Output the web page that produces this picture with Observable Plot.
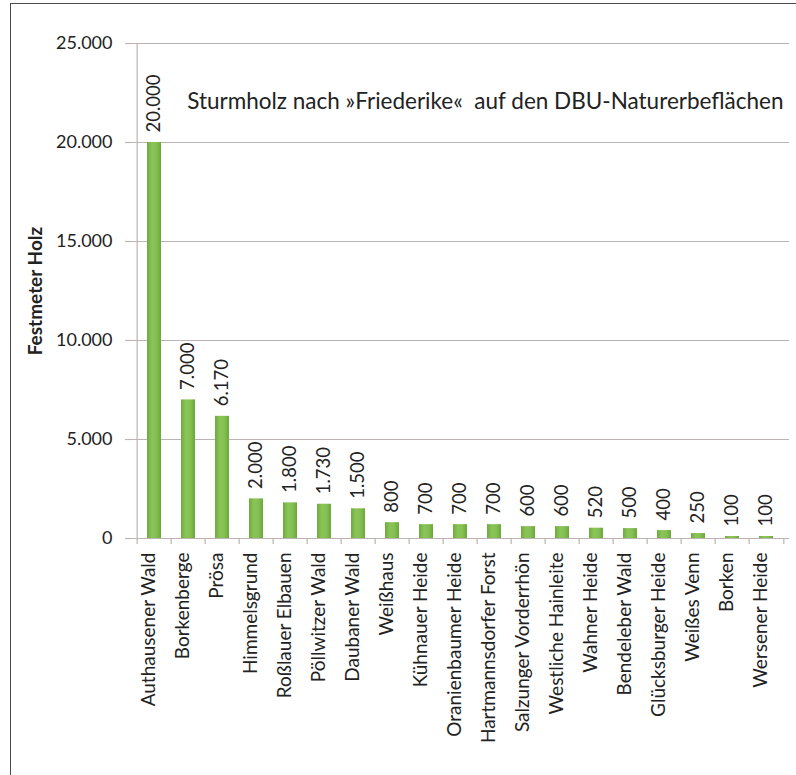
<!DOCTYPE html>
<html>
<head>
<meta charset="utf-8">
<script src="https://cdn.jsdelivr.net/npm/d3@7"></script>
<script src="https://cdn.jsdelivr.net/npm/@observablehq/plot@0.6"></script>
<style>
  html, body { margin: 0; padding: 0; background: white; }
  #wrap { position: relative; width: 796px; height: 775px; }
  #border { position: absolute; left: 10px; top: 3px; right: 0; bottom: 0;
            border-left: 1.5px solid #4a4a4a; border-top: 1.5px solid #4a4a4a; pointer-events: none; }
</style>
</head>
<body>
<div id="wrap"><div id="border"></div></div>
<script>
const categories = ["Authausener Wald", "Borkenberge", "Prösa", "Himmelsgrund", "Roßlauer Elbauen",
  "Pöllwitzer Wald", "Daubaner Wald", "Weißhaus", "Kühnauer Heide", "Oranienbaumer Heide",
  "Hartmannsdorfer Forst", "Salzunger Vorderrhön", "Westliche Hainleite", "Wahner Heide",
  "Bendeleber Wald", "Glücksburger Heide", "Weißes Venn", "Borken", "Wersener Heide"];
const values = [20000, 7000, 6170, 2000, 1800, 1730, 1500, 800, 700, 700, 700, 600, 600, 520, 500, 400, 250, 100, 100];
const yTicks = [0, 5000, 10000, 15000, 20000, 25000];
const title = "Sturmholz nach »Friederike«  auf den DBU-Naturerbeflächen";
const yLabel = "Festmeter Holz";

const data = categories.map((name, i) => ({name, value: values[i]}));
const fmt = d3.formatLocale({decimal: ",", thousands: ".", grouping: [3], currency: ["", "€"]}).format(",");

const W = 796, H = 775, mL = 131, mR = 7, mT = 43, mB = 237;
const step = (W - mL - mR) / categories.length;
const gridColor = "#bdb3b3";
const tickDown = -6 * 25000 / (H - mT - mB);

const plot = Plot.plot({
  width: W, height: H,
  marginLeft: mL, marginRight: mR, marginTop: mT, marginBottom: mB,
  style: {fontFamily: "Lato, sans-serif", fontSize: "18px", color: "#222", background: "white", overflow: "visible"},
  x: {domain: categories, paddingInner: 0.6, paddingOuter: 0.3, axis: null},
  y: {domain: [0, 25000], axis: null},
  marks: [
    Plot.gridY(yTicks, {stroke: gridColor, strokeOpacity: 1, strokeWidth: 1.2}),
    Plot.axisY(yTicks, {tickFormat: fmt, tickSize: 6, tickPadding: 13, stroke: gridColor, strokeWidth: 1.2, label: null, fontSize: 18, fill: "#222"}),
    Plot.ruleX([categories[0]], {x: d => d, dx: -step / 2, y1: 0, y2: 25000, stroke: gridColor, strokeWidth: 1.2}),
    Plot.ruleX(categories, {x: d => d, dx: -step / 2, y1: 0, y2: tickDown, stroke: gridColor, strokeWidth: 1.2}),
    Plot.ruleX([categories[categories.length - 1]], {x: d => d, dx: step / 2, y1: 0, y2: tickDown, stroke: gridColor, strokeWidth: 1.2}),
    Plot.barY(data, {x: "name", y: "value", fill: "url(#barGrad)"}),
    Plot.text(data, {x: "name", y: "value", text: d => fmt(d.value), rotate: -90, textAnchor: "start", dy: -10, fontSize: 18.5, fill: "#222"}),
    Plot.text(data, {x: "name", text: "name", frameAnchor: "bottom", rotate: -90, textAnchor: "end", dy: 14, fontSize: 19, fill: "#222"}),
    Plot.text([title], {frameAnchor: "top-right", textAnchor: "end", dx: -6, dy: 50, fontSize: 22.5, fill: "#222"}),
    Plot.text([yLabel], {frameAnchor: "left", textAnchor: "middle", rotate: -90, dx: -96, fontSize: 19, fontWeight: "bold", fill: "#222"})
  ]
});

d3.select(plot).insert("defs", ":first-child").html(`
  <linearGradient id="barGrad" x1="0" x2="1" y1="0" y2="0">
    <stop offset="0" stop-color="#6dab3c"/>
    <stop offset="0.35" stop-color="#8bc45a"/>
    <stop offset="0.65" stop-color="#86c052"/>
    <stop offset="1" stop-color="#6aa83a"/>
  </linearGradient>`);

document.getElementById("wrap").appendChild(plot);
</script>
</body>
</html>
